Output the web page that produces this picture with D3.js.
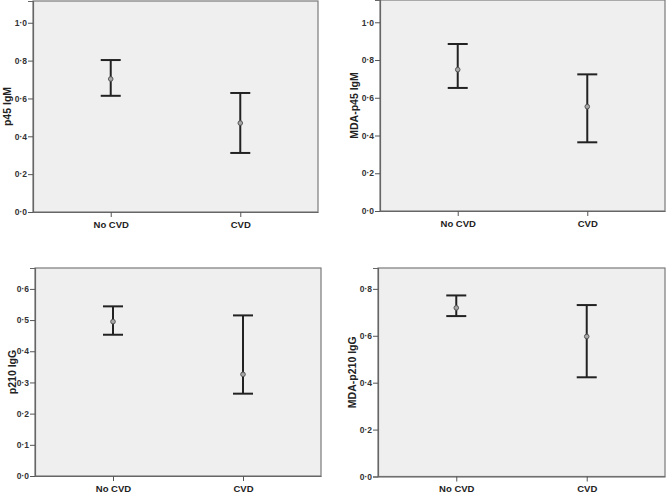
<!DOCTYPE html>
<html>
<head>
<meta charset="utf-8">
<script src="https://cdn.jsdelivr.net/npm/d3@7"></script>
<style>
  body { margin: 0; background: #fff; }
  svg { display: block; font-family: Arial, "Liberation Sans", sans-serif; }
</style>
</head>
<body>
<div id="chart"></div>
<script>
// Data (mean with 95% CI)
const groups = ['No CVD', 'CVD']

const panelNames = ['p45 IgM', 'MDA-p45 IgM', 'p210 IgG', 'MDA-p210 IgG']
const means = [[0.703, 0.470], [0.749, 0.553], [0.495, 0.326], [0.719, 0.597]]
const lowers = [[0.614, 0.312], [0.652, 0.364], [0.453, 0.264], [0.684, 0.423]]
const uppers = [[0.803, 0.629], [0.885, 0.724], [0.544, 0.515], [0.772, 0.731]]
const yMax = [1.115, 1.118, 0.667, 0.889]
const yTicks = [
    [0, 0.2, 0.4, 0.6, 0.8, 1.0],
    [0, 0.2, 0.4, 0.6, 0.8, 1.0],
    [0, 0.1, 0.2, 0.3, 0.4, 0.5, 0.6],
    [0, 0.2, 0.4, 0.6, 0.8]
]

// frame placement of each panel in the page
const layout = [
    {left: 33, right: 318, top: 1, bottom: 212, titleX: 7.5},
    {left: 380, right: 665, top: 0, bottom: 211, titleX: 354},
    {left: 35, right: 321, top: 268, bottom: 476, titleX: 12},
    {left: 378, right: 665, top: 268, bottom: 476.5, titleX: 352.5}
]

const svg = d3.select('#chart')
    .append('svg')
    .attr('width', 668)
    .attr('height', 495)

const fmt = d => d3.format('.1f')(d).replace('.', '\u00b7')

panelNames.forEach((name, i) => {
    let L = layout[i]
    let g = svg.append('g')

    let x = d3.scalePoint()
        .domain(groups)
        .range([L.left, L.right])
        .padding(0.6)

    let y = d3.scaleLinear()
        .domain([0, yMax[i]])
        .range([L.bottom, L.top])

    g.append('rect')
        .attr('x', L.left)
        .attr('y', L.top)
        .attr('width', L.right - L.left)
        .attr('height', L.bottom - L.top)
        .attr('fill', '#efefef')
        .attr('stroke', '#7a7a7a')
        .attr('stroke-width', 1.2)

    // y axis
    let yAxis = g.append('g')
        .attr('transform', `translate(${L.left},0)`)
        .call(d3.axisLeft(y).tickValues(yTicks[i]).tickSize(5).tickFormat(fmt))
    yAxis.select('.domain').attr('stroke', '#666').attr('stroke-width', 1.2)
    yAxis.selectAll('.tick line').attr('stroke', '#555')
    yAxis.selectAll('.tick text')
        .attr('font-size', 8.5)
        .attr('font-weight', 'bold')
        .attr('fill', '#333')
        .attr('x', -6)

    // x axis
    let xAxis = g.append('g')
        .attr('transform', `translate(0,${L.bottom})`)
        .call(d3.axisBottom(x).tickSize(5).tickSizeOuter(0))
    xAxis.select('.domain').attr('stroke', '#666').attr('stroke-width', 1.2)
    xAxis.selectAll('.tick line').attr('stroke', '#555')
    xAxis.selectAll('.tick text')
        .attr('font-size', 9.5)
        .attr('font-weight', 'bold')
        .attr('fill', '#222')
        .attr('y', 9)

    // y title
    g.append('text')
        .attr('transform', `translate(${L.titleX},${(L.top + L.bottom) / 2}) rotate(-90)`)
        .attr('text-anchor', 'middle')
        .attr('dy', '0.35em')
        .attr('font-size', 10.5)
        .attr('font-weight', 'bold')
        .attr('fill', '#222')
        .text(name)

    let rows = groups.map((k, j) => ({k: k, m: means[i][j], lo: lowers[i][j], hi: uppers[i][j]}))

    // error bars
    let bars = g.selectAll('.bar')
        .data(rows)
        .join('g')
        .attr('class', 'bar')
    bars.append('line')
        .attr('x1', d => x(d.k)).attr('x2', d => x(d.k))
        .attr('y1', d => y(d.lo)).attr('y2', d => y(d.hi))
        .attr('stroke', '#222').attr('stroke-width', 2)
    bars.append('line')
        .attr('x1', d => x(d.k) - 10).attr('x2', d => x(d.k) + 10)
        .attr('y1', d => y(d.hi)).attr('y2', d => y(d.hi))
        .attr('stroke', '#222').attr('stroke-width', 2)
    bars.append('line')
        .attr('x1', d => x(d.k) - 10).attr('x2', d => x(d.k) + 10)
        .attr('y1', d => y(d.lo)).attr('y2', d => y(d.lo))
        .attr('stroke', '#222').attr('stroke-width', 2)
    bars.append('circle')
        .attr('cx', d => x(d.k))
        .attr('cy', d => y(d.m))
        .attr('r', 2.3)
        .attr('fill', '#a8a8a8')
        .attr('stroke', '#555')
        .attr('stroke-width', 1)
})
</script>
</body>
</html>
